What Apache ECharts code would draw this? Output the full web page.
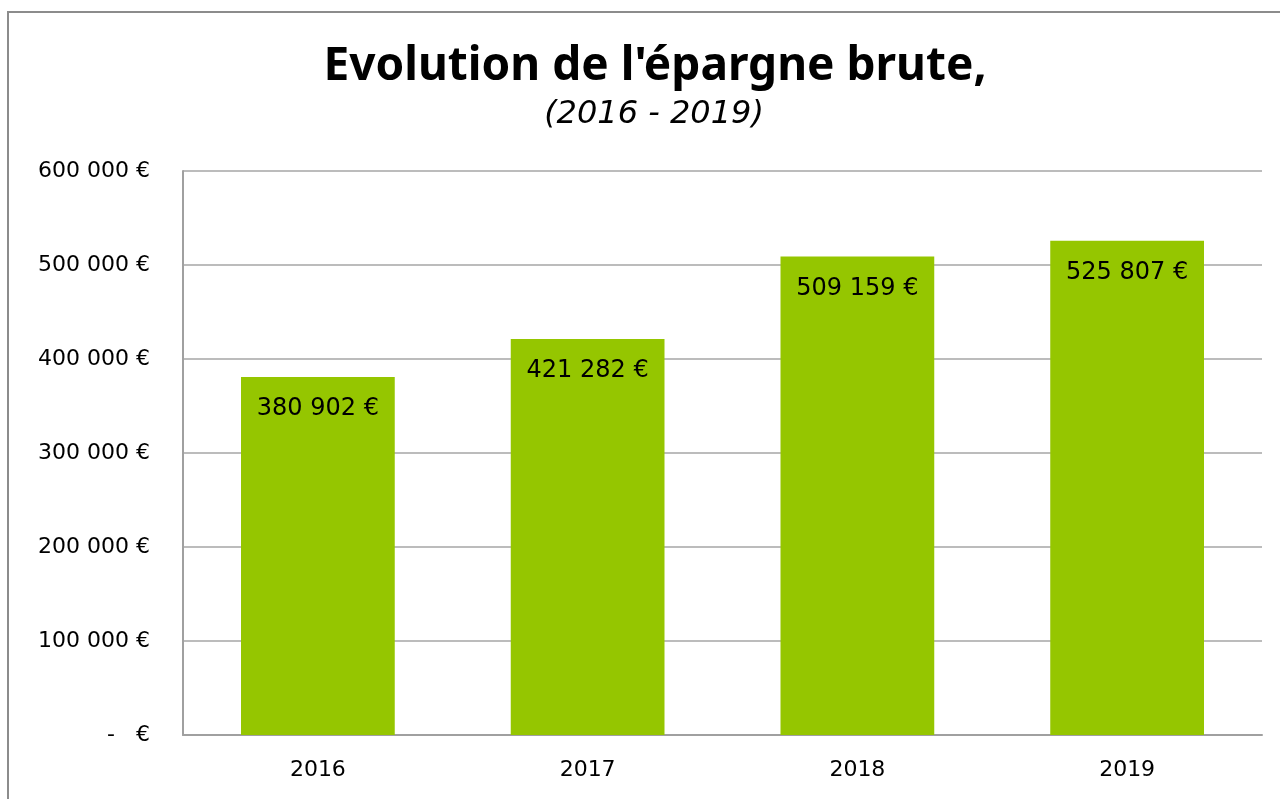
<!DOCTYPE html>
<html><head><meta charset="utf-8">
<script src="https://cdn.jsdelivr.net/npm/echarts@6/dist/echarts.min.js"></script>
<style>html,body{margin:0;padding:0;background:#fff}#c{width:1280px;height:799px}</style>
</head><body><div id="c"></div>
<script>
const categories = ['2016', '2017', '2018', '2019'];
const values = [380902, 421282, 509159, 525807];
const titleText = "Evolution de l'épargne brute,";
const subtitleText = "(2016 - 2019)";

function fmt(v) {
  if (v === 0) return '-   €';
  return String(Math.round(v)).replace(/\B(?=(\d{3})+(?!\d))/g, ' ') + ' €';
}
const FONT = "'DejaVu Sans', sans-serif";
const TFONT = "'Noto Sans', sans-serif";
const chart = echarts.init(document.getElementById('c'));
chart.setOption({
  animation: false,
  graphic: [{
    type: 'rect', shape: { x: 8, y: 12, width: 1300, height: 820 },
    style: { fill: 'none', stroke: '#8c8c8c', lineWidth: 2 }, z: 0
  }],
  title: [
    { text: titleText, left: 650, top: 39, textAlign: 'center',
      textStyle: { fontFamily: TFONT, fontSize: 46, fontWeight: 'bold', color: '#000' } },
    { text: subtitleText, left: 649, top: 94, textAlign: 'center',
      textStyle: { fontFamily: FONT, fontSize: 32, fontStyle: 'italic', fontWeight: 'normal', color: '#000' } }
  ],
  grid: { left: 183, right: 18, top: 171, bottom: 64, containLabel: false },
  xAxis: {
    type: 'category', data: categories,
    axisLine: { show: true, lineStyle: { color: '#a0a0a0', width: 2 } },
    axisTick: { show: false },
    axisLabel: { fontFamily: FONT, fontSize: 22, color: '#000', margin: 24 }
  },
  yAxis: {
    type: 'value', min: 0, max: 600000, interval: 100000,
    axisLine: { show: true, lineStyle: { color: '#a0a0a0', width: 2 } },
    axisTick: { show: false },
    splitLine: { lineStyle: { color: '#a6a6a6', width: 1.5 } },
    axisLabel: { fontFamily: FONT, fontSize: 22, color: '#000', margin: 33, formatter: fmt }
  },
  series: [{
    type: 'bar', data: values, barWidth: '57%',
    itemStyle: { color: '#95c600' },
    label: { show: true, position: 'insideTop', distance: 20,
      fontFamily: FONT, fontSize: 24, color: '#000', formatter: p => fmt(p.value) }
  }]
});
</script></body></html>
